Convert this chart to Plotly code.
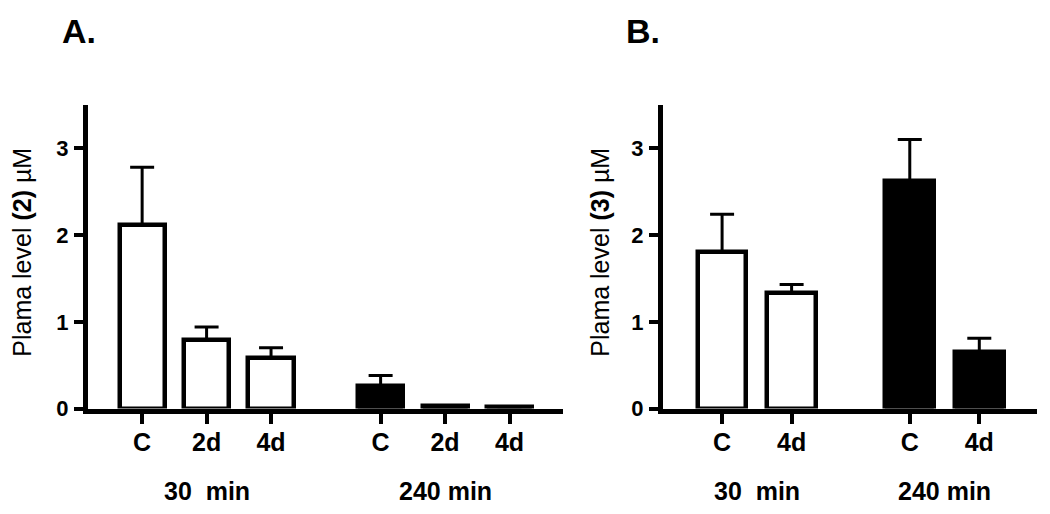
import plotly.graph_objects as go

# ---- data ----
pos_a = [0, 1, 2, 3.7, 4.7, 5.7]
ticks_a = ["C", "2d", "4d", "C", "2d", "4d"]
mean_a = [2.12, 0.79, 0.58, 0.26, 0.03, 0.02]
err_a = [0.66, 0.15, 0.12, 0.12, 0.0, 0.0]
fill_a = ["white", "white", "white", "black", "black", "black"]

pos_b = [0, 1, 2.7, 3.7]
ticks_b = ["C", "4d", "C", "4d"]
mean_b = [1.81, 1.33, 2.62, 0.65]
err_b = [0.43, 0.10, 0.48, 0.16]
fill_b = ["white", "white", "black", "black"]

groups = ["30  min", "240 min"]
y_ticks = [0, 1, 2, 3]

FONT = "Arial, Liberation Sans, sans-serif"
W, H = 1050, 514
VS = 0.9757  # vertical compensation observed in the rendered page

def px_x(p):
    return p / W

def px_y(p):
    return (H - p / VS) / H

fig = go.Figure()

fig.add_trace(go.Bar(
    x=pos_a, y=mean_a, width=0.7,
    marker=dict(color=fill_a, line=dict(color="black", width=4.5)),
    error_y=dict(type="data", symmetric=False, array=err_a,
                 arrayminus=[0] * len(err_a), color="black", thickness=3, width=12),
    xaxis="x", yaxis="y", showlegend=False,
))
fig.add_trace(go.Bar(
    x=pos_b, y=mean_b, width=0.7,
    marker=dict(color=fill_b, line=dict(color="black", width=4.5)),
    error_y=dict(type="data", symmetric=False, array=err_b,
                 arrayminus=[0] * len(err_b), color="black", thickness=3, width=12),
    xaxis="x2", yaxis="y2", showlegend=False,
))

ydom = [px_y(409), px_y(105)]
xaxis_common = dict(
    showline=True, linewidth=5, linecolor="black", showgrid=False, zeroline=False,
    ticks="outside", ticklen=10, tickwidth=3.5, tickcolor="black",
    tickfont=dict(family=FONT, size=25, color="black", weight="bold"),
    ticklabelstandoff=-3,
)
yaxis_common = dict(
    range=[0, 3.5], tickvals=y_ticks, showline=True, linewidth=5, linecolor="black",
    showgrid=False, zeroline=False, ticks="outside", ticklen=9, tickwidth=3.5,
    tickcolor="black", domain=ydom, ticklabelstandoff=1,
    tickfont=dict(family=FONT, size=22, color="black", weight="bold"),
)

fig.update_layout(
    width=W, height=H, plot_bgcolor="white", paper_bgcolor="white",
    margin=dict(l=0, r=0, t=0, b=0), bargap=0,
    xaxis=dict(domain=[px_x(88), px_x(563)], range=[-0.84, 6.53],
               tickvals=pos_a, ticktext=ticks_a, anchor="y", **xaxis_common),
    yaxis=dict(anchor="x", **yaxis_common),
    xaxis2=dict(domain=[px_x(663), px_x(1037)], range=[-0.85, 4.53],
                tickvals=pos_b, ticktext=ticks_b, anchor="y2", **xaxis_common),
    yaxis2=dict(anchor="x2", **yaxis_common),
)

ann = []
# panel letters
ann.append(dict(text="<b>A.</b>", x=px_x(60), y=px_y(31), xanchor="left", yanchor="middle"))
ann.append(dict(text="<b>B.</b>", x=px_x(624), y=px_y(31), xanchor="left", yanchor="middle"))
for a in ann:
    a.update(xref="paper", yref="paper", showarrow=False,
             font=dict(family=FONT, size=34, color="black"))

# y titles
for xc, num in [(22, "2"), (600, "3")]:
    ann.append(dict(text=f"Plama level <b>({num})</b> \u00b5M", x=px_x(xc), y=px_y(253),
                    xref="paper", yref="paper", showarrow=False, textangle=-90,
                    xanchor="center", yanchor="middle",
                    font=dict(family=FONT, size=25, color="black")))

# group labels
grp_a = [sum(pos_a[:3]) / 3, sum(pos_a[3:]) / 3]
grp_b = [sum(pos_b[:2]) / 2, sum(pos_b[2:]) / 2]
for g, xa in zip(groups, grp_a):
    ann.append(dict(text=f"<b>{g}</b>", x=xa, y=px_y(492), xref="x", yref="paper",
                    showarrow=False, xanchor="center", yanchor="middle",
                    font=dict(family=FONT, size=25, color="black")))
for g, xb in zip(groups, grp_b):
    ann.append(dict(text=f"<b>{g}</b>", x=xb, y=px_y(492), xref="x2", yref="paper",
                    showarrow=False, xanchor="center", yanchor="middle",
                    font=dict(family=FONT, size=25, color="black")))

fig.update_layout(annotations=ann)
fig.write_html("out.html", config={"displayModeBar": False},
               post_script="document.body.style.margin='0';document.body.style.overflow='hidden';")
